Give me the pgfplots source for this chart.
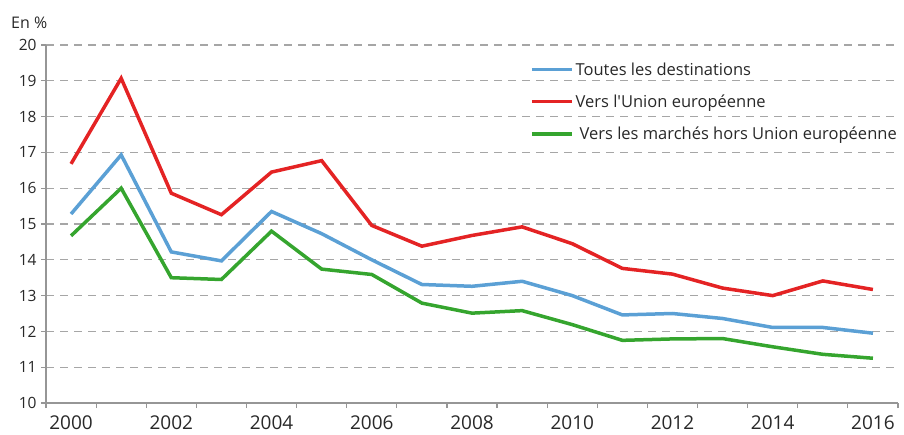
\documentclass[border=0pt]{standalone}
\usepackage{fontspec}
\setmainfont{Open Sans}[Ligatures=TeXOff]
\usepackage{pgfplots}
\pgfplotsset{compat=1.18}
\usepackage{pgfplotstable}
\definecolor{cblue}{RGB}{91,160,213}
\definecolor{cred}{RGB}{228,35,36}
\definecolor{cgreen}{RGB}{53,165,46}
\definecolor{cgrid}{RGB}{150,150,150}
\definecolor{ctext}{RGB}{40,40,40}
\pgfplotstableread{
year toutes ue hors
2000 15.28 16.68 14.67
2001 16.93 19.07 16.00
2002 14.22 15.86 13.50
2003 13.97 15.26 13.45
2004 15.35 16.45 14.80
2005 14.73 16.77 13.74
2006 14.00 14.96 13.59
2007 13.31 14.38 12.79
2008 13.26 14.68 12.51
2009 13.40 14.92 12.58
2010 13.00 14.45 12.19
2011 12.46 13.76 11.75
2012 12.50 13.60 11.79
2013 12.36 13.21 11.80
2014 12.11 13.00 11.57
2015 12.11 13.41 11.36
2016 11.95 13.17 11.25
}\datatable
\begin{document}
\begin{tikzpicture}[x=1pt,y=1pt]
\useasboundingbox (0,0) rectangle (904,434);
\node[anchor=west, font=\fontsize{16}{18}\selectfont, text=ctext, inner sep=0pt] at (11,411) {En \%};
\begin{axis}[
  at={(46pt,31pt)}, anchor=south west,
  scale only axis, width=852pt, height=358pt,
  xmin=1999.5, xmax=2016.5, ymin=10, ymax=20,
  axis x line*=bottom, axis y line*=left,
  axis line style={cgrid, line width=1.2pt},
  tick align=outside, major tick length=5pt,
  tick style={cgrid, line width=1.2pt},
  ytick={10,11,...,20},
  ymajorgrids, grid style={cgrid!85, line width=1.2pt, dash pattern=on 8pt off 6pt},
  xtick={1999.5,2000.5,...,2016.5}, xticklabels={},
  extra x ticks={2000,2002,...,2016},
  extra x tick labels={2000,2002,2004,2006,2008,2010,2012,2014,2016},
  extra x tick style={major tick length=0pt, grid=none, xticklabel style={font=\fontsize{19}{21}\selectfont, text=ctext, yshift=-9pt}},
  yticklabel style={font=\fontsize{15.5}{17}\selectfont, text=ctext, xshift=-1pt},
  /pgf/number format/assume math mode=true,
  /pgf/number format/1000 sep={},
  legend style={at={(0.568,0.957)}, anchor=north west, draw=none, fill=none,
    font=\fontsize{16.5}{18}\selectfont, text=ctext, row sep=14pt, inner sep=0pt},
  legend cell align=left,
  legend image code/.code={\draw[#1, line width=3.5pt] (0pt,0pt) -- (40pt,0pt);},
]
\addplot[cblue, line width=3.5pt] table[x=year, y=toutes] {\datatable};
\addlegendentry{Toutes les destinations}
\addplot[cred, line width=3.5pt] table[x=year, y=ue] {\datatable};
\addlegendentry{Vers l'Union européenne}
\addplot[cgreen, line width=3.5pt] table[x=year, y=hors] {\datatable};
\addlegendentry{\hspace*{4pt}Vers les marchés hors Union européenne}
\end{axis}
\end{tikzpicture}
\end{document}
